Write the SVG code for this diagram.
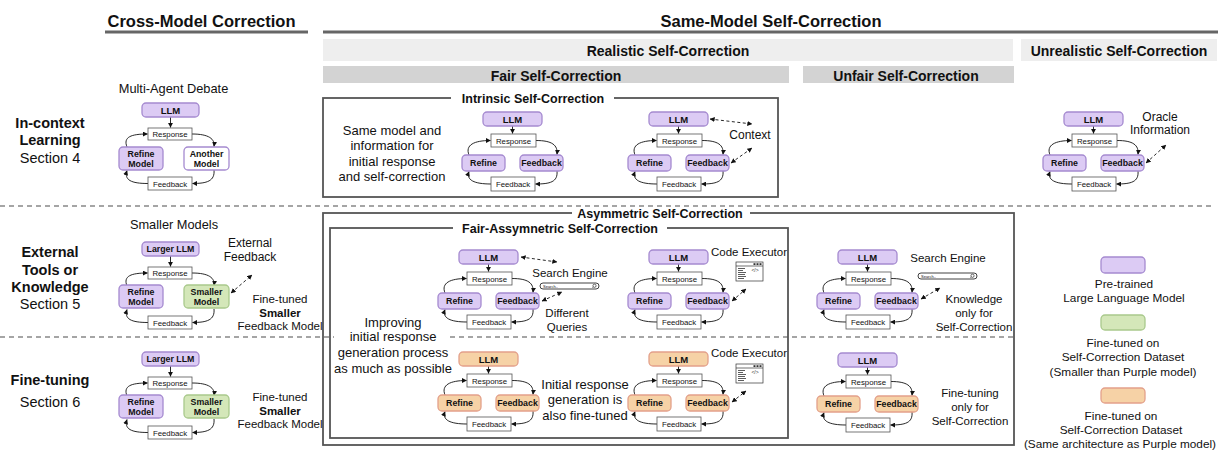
<svg xmlns="http://www.w3.org/2000/svg" xmlns:xlink="http://www.w3.org/1999/xlink" width="1223" height="451" viewBox="0 0 1223 451">
<style>
.t{font-family:"Liberation Sans",Arial,Helvetica,sans-serif;fill:#111;text-anchor:middle}
.b{font-weight:bold}
.h1{font-size:16.5px}
.h2{font-size:14px}
.h3{font-size:12.5px}
.rl{font-size:14.5px}
.f13{font-size:13px}
.f128{font-size:12.8px}
.f12{font-size:12px}
.f115{font-size:11.5px}
.lg{font-size:11.8px}
.n10{font-size:9.5px}
.n9{font-size:8.8px}
.n8{font-size:7.8px}
.pu{fill:#dccbf4;stroke:#a58ad0;stroke-width:1.3}
.gr{fill:#d4e7b9;stroke:#a9c98c;stroke-width:1.3}
.or{fill:#f6d2a6;stroke:#e3a08a;stroke-width:1.3}
.wp{fill:#fff;stroke:#a58ad0;stroke-width:1.3}
.wb{fill:#fff;stroke:#555;stroke-width:0.8}
.ar{fill:none;stroke:#111;stroke-width:0.9;marker-end:url(#ah)}
.da{fill:none;stroke:#111;stroke-width:0.9;stroke-dasharray:3 2.5;marker-start:url(#ah);marker-end:url(#ah)}
.sep{stroke:#888;stroke-width:1.3;stroke-dasharray:5 4}
.box{fill:none;stroke:#555;stroke-width:1.8}
.ico{fill:#fff;stroke:#333;stroke-width:0.7}
</style>
<defs>
<marker id="ah" viewBox="0 0 6 6" refX="5.6" refY="3" markerWidth="5" markerHeight="5" markerUnits="userSpaceOnUse" orient="auto-start-reverse"><path d="M0,0 L6,3 L0,6 z" fill="#111"/></marker>
<g id="tp">
<path class="ar" d="M50.5 14V21.5"/>
<path class="ar" d="M7 43C3 33 12 28.5 28.5 28.5"/>
<path class="ar" d="M74 28.5C90 28.5 96 33 95 42.5"/>
<path class="ar" d="M95 59C96 70 88 72 73.5 72"/>
<path class="ar" d="M29 72C12 72 4 68 7 59.5"/>
</g>
<g id="cp">
<path class="ar" d="M51.5 14V24.5"/>
<path class="ar" d="M8 44C4 34 12 31 28.5 31"/>
<path class="ar" d="M73 31C90 31 96 36 95 43.5"/>
<path class="ar" d="M95 67C96 78 88 80.5 73.5 80.5"/>
<path class="ar" d="M29 80.5C12 80.5 5 77 8 67.5"/>
</g>
<g id="code">
<rect class="ico" x="0" y="0" width="27" height="19"/>
<line x1="0" y1="4" x2="27" y2="4" stroke="#333" stroke-width="0.7"/>
<rect x="17.5" y="1.2" width="2" height="1.8" fill="#333"/>
<rect x="20.5" y="1.2" width="2" height="1.8" fill="#333"/>
<rect x="23.5" y="1.2" width="2" height="1.8" fill="#333"/>
<g stroke="#333" stroke-width="0.8">
<line x1="2" y1="6.5" x2="9" y2="6.5"/><line x1="2" y1="8.5" x2="7" y2="8.5"/><line x1="2" y1="10.5" x2="10" y2="10.5"/>
<line x1="2" y1="12.5" x2="9" y2="12.5"/><line x1="2" y1="14.5" x2="10" y2="14.5"/><line x1="2" y1="16.5" x2="8" y2="16.5"/>
</g>
<text x="19" y="10" font-family="Liberation Sans,Arial,sans-serif" font-size="5" text-anchor="middle" fill="#333">&lt;/&gt;</text>
</g>
<g id="search">
<rect x="0" y="0" width="59" height="6" rx="3" fill="#fff" stroke="#111" stroke-width="0.8"/>
<text x="3" y="4.6" font-family="Liberation Sans,Arial,sans-serif" font-size="4" fill="#111">Search..</text>
<circle cx="54.5" cy="2.8" r="1.6" fill="none" stroke="#111" stroke-width="0.6"/>
<line x1="53.4" y1="3.9" x2="52.4" y2="4.9" stroke="#111" stroke-width="0.6"/>
</g>
</defs>

<!-- separators -->
<line class="sep" x1="0" y1="206" x2="1213" y2="206"/>
<line class="sep" x1="0" y1="337" x2="1016" y2="337"/>

<!-- headers -->
<g id="hdr-cross">
<text class="t b h1" x="201.5" y="27">Cross-Model Correction</text>
<line x1="105" y1="32" x2="308" y2="32" stroke="#666" stroke-width="3"/>
</g>
<g id="hdr-same">
<text class="t b h1" x="771" y="27">Same-Model Self-Correction</text>
<line x1="323" y1="32" x2="1218" y2="32" stroke="#666" stroke-width="3"/>
</g>
<g id="band-realistic">
<rect x="323" y="39" width="690" height="22" fill="#eeeeee"/>
<text class="t b h2" x="668" y="56">Realistic Self-Correction</text>
</g>
<g id="band-unrealistic">
<rect x="1021" y="39" width="196" height="22" fill="#eeeeee"/>
<text class="t b h2" x="1119" y="56">Unrealistic Self-Correction</text>
</g>
<g id="band-fair">
<rect x="323" y="66" width="466" height="17" fill="#d3d3d3"/>
<text class="t b h2" x="556" y="81">Fair Self-Correction</text>
</g>
<g id="band-unfair">
<rect x="803" y="66" width="211" height="17" fill="#d3d3d3"/>
<text class="t b h2" x="906" y="81">Unfair Self-Correction</text>
</g>

<!-- row labels -->
<g id="row1">
<text class="t b rl" x="50" y="128">In-context</text>
<text class="t b rl" x="50" y="145">Learning</text>
<text class="t rl" x="50" y="163">Section 4</text>
</g>
<g id="row2">
<text class="t b rl" x="50" y="257">External</text>
<text class="t b rl" x="50" y="275">Tools or</text>
<text class="t b rl" x="50" y="292">Knowledge</text>
<text class="t rl" x="50" y="309">Section 5</text>
</g>
<g id="row3">
<text class="t b rl" x="50" y="385">Fine-tuning</text>
<text class="t rl" x="50" y="407">Section 6</text>
</g>

<!-- frame boxes -->
<g id="box-intrinsic">
<rect class="box" x="323" y="98" width="455" height="99"/>
<rect x="451" y="92" width="163" height="12" fill="#fff"/>
<text class="t b h3" x="533" y="103">Intrinsic Self-Correction</text>
</g>
<g id="box-asym">
<rect class="box" x="323" y="213" width="691" height="232"/>
<rect x="572" y="207" width="178" height="12" fill="#fff"/>
<text class="t b h3" x="660" y="218">Asymmetric Self-Correction</text>
</g>
<g id="box-fairasym">
<rect class="box" x="330" y="228" width="458" height="210"/>
<rect x="453" y="222" width="214" height="12" fill="#fff"/>
<text class="t b h3" x="560" y="233">Fair-Assymnetric Self-Correction</text>
</g>

<!-- connectors -->
<g id="connectors">
<use xlink:href="#cp" href="#cp" transform="translate(119,103)"/>
<use xlink:href="#cp" href="#cp" transform="translate(119,242)"/>
<use xlink:href="#cp" href="#cp" transform="translate(119,352)"/>
<use xlink:href="#tp" href="#tp" transform="translate(462,112)"/>
<use xlink:href="#tp" href="#tp" transform="translate(628,112)"/>
<use xlink:href="#tp" href="#tp" transform="translate(1043,112)"/>
<use xlink:href="#tp" href="#tp" transform="translate(438,250)"/>
<use xlink:href="#tp" href="#tp" transform="translate(628,250)"/>
<use xlink:href="#tp" href="#tp" transform="translate(438,352)"/>
<use xlink:href="#tp" href="#tp" transform="translate(628,352)"/>
<use xlink:href="#tp" href="#tp" transform="translate(817,250)"/>
<use xlink:href="#tp" href="#tp" transform="translate(817,353)"/>
<path class="da" d="M231 293L252 275"/>
<path class="da" d="M710 119L752 124"/>
<path class="da" d="M731 163L752 148"/>
<path class="da" d="M1146 163L1166 145"/>
<path class="da" d="M521 257L557 262"/>
<path class="da" d="M542 301L562 292"/>
<path class="da" d="M732 301L746 289"/>
<path class="da" d="M732 402L746 391"/>
<path class="da" d="M921 299L940 288"/>
</g>

<!-- Cross-model diagrams -->
<g id="cm1" transform="translate(119,103)">
<g id="cm1-llm"><rect class="pu" x="23" y="0" width="57" height="14" rx="4"/><text class="t b n10" x="51.5" y="10.5">LLM</text></g>
<g id="cm1-resp"><rect class="wb" x="29" y="25" width="44" height="12"/><text class="t n8" x="51" y="34">Response</text></g>
<g id="cm1-refine"><rect class="pu" x="0" y="44" width="44" height="23" rx="4"/><text class="t b n9" x="22" y="54">Refine</text><text class="t b n9" x="22" y="64">Model</text></g>
<g id="cm1-another"><rect class="wp" x="65" y="44" width="45" height="23" rx="4"/><text class="t b n9" x="87.5" y="54">Another</text><text class="t b n9" x="87.5" y="64">Model</text></g>
<g id="cm1-fb"><rect class="wb" x="29" y="74" width="44" height="13"/><text class="t n8" x="51" y="83.5">Feedback</text></g>
</g>
<text class="t f128" x="173.5" y="93">Multi-Agent Debate</text>

<g id="cm2" transform="translate(119,242)">
<g id="cm2-llm"><rect class="pu" x="23" y="0" width="57" height="14" rx="4"/><text class="t b n9" x="51.5" y="10.3">Larger LLM</text></g>
<g id="cm2-resp"><rect class="wb" x="29" y="25" width="44" height="12"/><text class="t n8" x="51" y="34">Response</text></g>
<g id="cm2-refine"><rect class="pu" x="0" y="43" width="44" height="23" rx="4"/><text class="t b n9" x="22" y="53">Refine</text><text class="t b n9" x="22" y="63">Model</text></g>
<g id="cm2-smaller"><rect class="gr" x="65" y="43" width="45" height="23" rx="4"/><text class="t b n9" x="87.5" y="53">Smaller</text><text class="t b n9" x="87.5" y="63">Model</text></g>
<g id="cm2-fb"><rect class="wb" x="29" y="74" width="44" height="13"/><text class="t n8" x="51" y="83.5">Feedback</text></g>
</g>
<text class="t f128" x="174" y="229">Smaller Models</text>
<text class="t f12" x="250" y="247">External</text>
<text class="t f12" x="250" y="261">Feedback</text>
<text class="t f115" x="280" y="303">Fine-tuned</text>
<text class="t b f115" x="280" y="317">Smaller</text>
<text class="t f115" x="280" y="330">Feedback Model</text>

<g id="cm3" transform="translate(119,352)">
<g id="cm3-llm"><rect class="pu" x="23" y="0" width="57" height="14" rx="4"/><text class="t b n9" x="51.5" y="10.3">Larger LLM</text></g>
<g id="cm3-resp"><rect class="wb" x="29" y="25" width="44" height="12"/><text class="t n8" x="51" y="34">Response</text></g>
<g id="cm3-refine"><rect class="pu" x="0" y="43" width="44" height="23" rx="4"/><text class="t b n9" x="22" y="53">Refine</text><text class="t b n9" x="22" y="63">Model</text></g>
<g id="cm3-smaller"><rect class="gr" x="65" y="43" width="45" height="23" rx="4"/><text class="t b n9" x="87.5" y="53">Smaller</text><text class="t b n9" x="87.5" y="63">Model</text></g>
<g id="cm3-fb"><rect class="wb" x="29" y="74" width="44" height="13"/><text class="t n8" x="51" y="83.5">Feedback</text></g>
</g>
<text class="t f115" x="280" y="401">Fine-tuned</text>
<text class="t b f115" x="280" y="415">Smaller</text>
<text class="t f115" x="280" y="428">Feedback Model</text>

<!-- Intrinsic -->
<text class="t f13" x="392" y="135">Same model and</text>
<text class="t f13" x="392" y="150">information for</text>
<text class="t f13" x="392" y="166">initial response</text>
<text class="t f13" x="392" y="181">and self-correction</text>

<g id="in1" transform="translate(462,112)">
<g id="in1-llm"><rect class="pu" x="21" y="0" width="59" height="14" rx="4"/><text class="t b n10" x="50.5" y="10.5">LLM</text></g>
<g id="in1-resp"><rect class="wb" x="29" y="22" width="45" height="13"/><text class="t n8" x="51.5" y="31.5">Response</text></g>
<g id="in1-refine"><rect class="pu" x="0" y="43" width="43" height="16" rx="4"/><text class="t b n9" x="21.5" y="54.3">Refine</text></g>
<g id="in1-feedback"><rect class="pu" x="58" y="43" width="43" height="16" rx="4"/><text class="t b n9" x="79.5" y="54.3">Feedback</text></g>
<g id="in1-fbout"><rect class="wb" x="29" y="65" width="44" height="14"/><text class="t n8" x="51" y="75">Feedback</text></g>
</g>
<g id="in2" transform="translate(628,112)">
<g id="in2-llm"><rect class="pu" x="21" y="0" width="59" height="14" rx="4"/><text class="t b n10" x="50.5" y="10.5">LLM</text></g>
<g id="in2-resp"><rect class="wb" x="29" y="22" width="45" height="13"/><text class="t n8" x="51.5" y="31.5">Response</text></g>
<g id="in2-refine"><rect class="pu" x="0" y="43" width="43" height="16" rx="4"/><text class="t b n9" x="21.5" y="54.3">Refine</text></g>
<g id="in2-feedback"><rect class="pu" x="58" y="43" width="43" height="16" rx="4"/><text class="t b n9" x="79.5" y="54.3">Feedback</text></g>
<g id="in2-fbout"><rect class="wb" x="29" y="65" width="44" height="14"/><text class="t n8" x="51" y="75">Feedback</text></g>
</g>
<text class="t f12" x="750" y="139">Context</text>

<!-- Unrealistic -->
<g id="un" transform="translate(1043,112)">
<g id="un-llm"><rect class="pu" x="21" y="0" width="59" height="14" rx="4"/><text class="t b n10" x="50.5" y="10.5">LLM</text></g>
<g id="un-resp"><rect class="wb" x="29" y="22" width="45" height="13"/><text class="t n8" x="51.5" y="31.5">Response</text></g>
<g id="un-refine"><rect class="pu" x="0" y="43" width="43" height="16" rx="4"/><text class="t b n9" x="21.5" y="54.3">Refine</text></g>
<g id="un-feedback"><rect class="pu" x="58" y="43" width="43" height="16" rx="4"/><text class="t b n9" x="79.5" y="54.3">Feedback</text></g>
<g id="un-fbout"><rect class="wb" x="29" y="65" width="44" height="14"/><text class="t n8" x="51" y="75">Feedback</text></g>
</g>
<text class="t f12" x="1160" y="121">Oracle</text>
<text class="t f12" x="1160" y="134">Information</text>

<!-- Fair-asym row 2 -->
<g id="fa1" transform="translate(438,250)">
<g id="fa1-llm"><rect class="pu" x="21" y="0" width="59" height="14" rx="4"/><text class="t b n10" x="50.5" y="10.5">LLM</text></g>
<g id="fa1-resp"><rect class="wb" x="29" y="22" width="45" height="13"/><text class="t n8" x="51.5" y="31.5">Response</text></g>
<g id="fa1-refine"><rect class="pu" x="0" y="43" width="43" height="16" rx="4"/><text class="t b n9" x="21.5" y="54.3">Refine</text></g>
<g id="fa1-feedback"><rect class="pu" x="58" y="43" width="43" height="16" rx="4"/><text class="t b n9" x="79.5" y="54.3">Feedback</text></g>
<g id="fa1-fbout"><rect class="wb" x="29" y="65" width="44" height="14"/><text class="t n8" x="51" y="75">Feedback</text></g>
</g>
<text class="t f115" x="570" y="277">Search Engine</text>
<use xlink:href="#search" href="#search" x="540" y="283"/>
<text class="t f115" x="567" y="317">Different</text>
<text class="t f115" x="567" y="331">Queries</text>

<g id="fa2" transform="translate(628,250)">
<g id="fa2-llm"><rect class="pu" x="21" y="0" width="59" height="14" rx="4"/><text class="t b n10" x="50.5" y="10.5">LLM</text></g>
<g id="fa2-resp"><rect class="wb" x="29" y="22" width="45" height="13"/><text class="t n8" x="51.5" y="31.5">Response</text></g>
<g id="fa2-refine"><rect class="pu" x="0" y="43" width="43" height="16" rx="4"/><text class="t b n9" x="21.5" y="54.3">Refine</text></g>
<g id="fa2-feedback"><rect class="pu" x="58" y="43" width="43" height="16" rx="4"/><text class="t b n9" x="79.5" y="54.3">Feedback</text></g>
<g id="fa2-fbout"><rect class="wb" x="29" y="65" width="44" height="14"/><text class="t n8" x="51" y="75">Feedback</text></g>
</g>
<text class="t f115" x="749" y="256">Code Executor</text>
<use xlink:href="#code" href="#code" x="736" y="262"/>

<!-- Improving text -->
<rect x="334" y="331" width="112" height="12" fill="#fff"/>
<text class="t f13" x="393" y="327">Improving</text>
<text class="t f13" x="393" y="341">initial response</text>
<text class="t f13" x="393" y="357">generation process</text>
<text class="t f13" x="393" y="373">as much as possible</text>

<!-- Fair-asym row 3 -->
<g id="ft1" transform="translate(438,352)">
<g id="ft1-llm"><rect class="or" x="21" y="0" width="59" height="14" rx="4"/><text class="t b n10" x="50.5" y="10.5">LLM</text></g>
<g id="ft1-resp"><rect class="wb" x="29" y="22" width="45" height="13"/><text class="t n8" x="51.5" y="31.5">Response</text></g>
<g id="ft1-refine"><rect class="or" x="0" y="43" width="43" height="16" rx="4"/><text class="t b n9" x="21.5" y="54.3">Refine</text></g>
<g id="ft1-feedback"><rect class="or" x="58" y="43" width="43" height="16" rx="4"/><text class="t b n9" x="79.5" y="54.3">Feedback</text></g>
<g id="ft1-fbout"><rect class="wb" x="29" y="65" width="44" height="14"/><text class="t n8" x="51" y="75">Feedback</text></g>
</g>
<text class="t f13" x="585" y="389">Initial response</text>
<text class="t f13" x="585" y="404">generation is</text>
<text class="t f13" x="585" y="420">also fine-tuned</text>

<g id="ft2" transform="translate(628,352)">
<g id="ft2-llm"><rect class="or" x="21" y="0" width="59" height="14" rx="4"/><text class="t b n10" x="50.5" y="10.5">LLM</text></g>
<g id="ft2-resp"><rect class="wb" x="29" y="22" width="45" height="13"/><text class="t n8" x="51.5" y="31.5">Response</text></g>
<g id="ft2-refine"><rect class="or" x="0" y="43" width="43" height="16" rx="4"/><text class="t b n9" x="21.5" y="54.3">Refine</text></g>
<g id="ft2-feedback"><rect class="or" x="58" y="43" width="43" height="16" rx="4"/><text class="t b n9" x="79.5" y="54.3">Feedback</text></g>
<g id="ft2-fbout"><rect class="wb" x="29" y="65" width="44" height="14"/><text class="t n8" x="51" y="75">Feedback</text></g>
</g>
<text class="t f115" x="749" y="357">Code Executor</text>
<use xlink:href="#code" href="#code" x="736" y="364"/>

<!-- Unfair -->
<g id="uf1" transform="translate(817,250)">
<g id="uf1-llm"><rect class="pu" x="21" y="0" width="59" height="14" rx="4"/><text class="t b n10" x="50.5" y="10.5">LLM</text></g>
<g id="uf1-resp"><rect class="wb" x="29" y="22" width="45" height="13"/><text class="t n8" x="51.5" y="31.5">Response</text></g>
<g id="uf1-refine"><rect class="pu" x="0" y="43" width="43" height="16" rx="4"/><text class="t b n9" x="21.5" y="54.3">Refine</text></g>
<g id="uf1-feedback"><rect class="pu" x="58" y="43" width="43" height="16" rx="4"/><text class="t b n9" x="79.5" y="54.3">Feedback</text></g>
<g id="uf1-fbout"><rect class="wb" x="29" y="65" width="44" height="14"/><text class="t n8" x="51" y="75">Feedback</text></g>
</g>
<text class="t f115" x="948" y="262">Search Engine</text>
<use xlink:href="#search" href="#search" x="918" y="273"/>
<text class="t f115" x="974" y="303">Knowledge</text>
<text class="t f115" x="974" y="317">only for</text>
<text class="t f115" x="974" y="331">Self-Correction</text>

<g id="uf2" transform="translate(817,353)">
<g id="uf2-llm"><rect class="pu" x="21" y="0" width="59" height="14" rx="4"/><text class="t b n10" x="50.5" y="10.5">LLM</text></g>
<g id="uf2-resp"><rect class="wb" x="29" y="22" width="45" height="13"/><text class="t n8" x="51.5" y="31.5">Response</text></g>
<g id="uf2-refine"><rect class="or" x="0" y="43" width="43" height="16" rx="4"/><text class="t b n9" x="21.5" y="54.3">Refine</text></g>
<g id="uf2-feedback"><rect class="or" x="58" y="43" width="43" height="16" rx="4"/><text class="t b n9" x="79.5" y="54.3">Feedback</text></g>
<g id="uf2-fbout"><rect class="wb" x="29" y="65" width="44" height="14"/><text class="t n8" x="51" y="75">Feedback</text></g>
</g>
<text class="t f115" x="970" y="397">Fine-tuning</text>
<text class="t f115" x="970" y="411">only for</text>
<text class="t f115" x="970" y="425">Self-Correction</text>

<!-- Legend -->
<g id="legend-purple">
<rect class="pu" x="1101" y="257" width="44" height="16" rx="4"/>
<text class="t lg" x="1124" y="288">Pre-trained</text>
<text class="t lg" x="1124" y="302">Large Language Model</text>
</g>
<g id="legend-green">
<rect class="gr" x="1101" y="315" width="44" height="15" rx="4"/>
<text class="t lg" x="1123" y="347">Fine-tuned on</text>
<text class="t lg" x="1123" y="361">Self-Correction Dataset</text>
<text class="t lg" x="1123" y="376">(Smaller than Purple model)</text>
</g>
<g id="legend-orange">
<rect class="or" x="1101" y="388" width="44" height="15" rx="4"/>
<text class="t lg" x="1121" y="420">Fine-tuned on</text>
<text class="t lg" x="1121" y="434">Self-Correction Dataset</text>
<text class="t lg" x="1120" y="448">(Same architecture as Purple model)</text>
</g>
</svg>
